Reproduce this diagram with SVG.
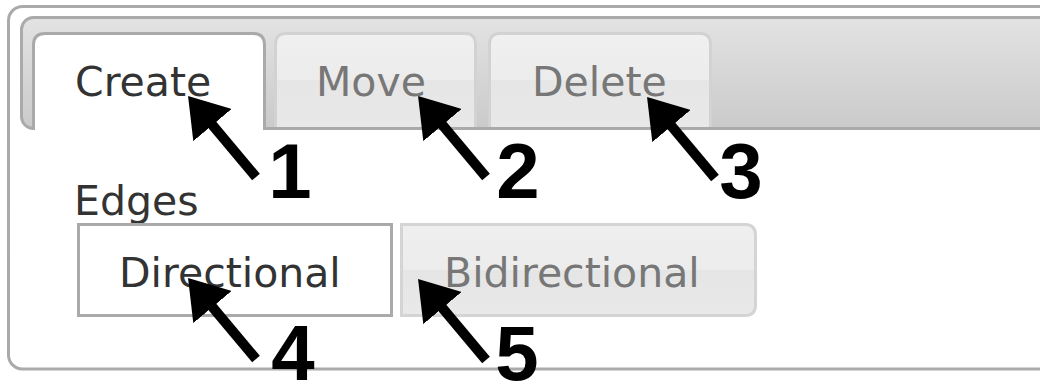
<svg xmlns="http://www.w3.org/2000/svg" width="1040" height="381" viewBox="0 0 1040 381">
<defs>
<linearGradient id="barGrad" x1="0" y1="0" x2="0" y2="1">
<stop offset="0" stop-color="#e3e3e3"/>
<stop offset="1" stop-color="#cacaca"/>
</linearGradient>
<linearGradient id="tabGrad" x1="0" y1="0" x2="0" y2="1">
<stop offset="0" stop-color="#f0f0f0"/>
<stop offset="0.5" stop-color="#ececec"/>
<stop offset="0.5" stop-color="#e6e6e6"/>
<stop offset="1" stop-color="#e8e8e8"/>
</linearGradient>
<linearGradient id="btnGrad" x1="0" y1="0" x2="0" y2="1">
<stop offset="0" stop-color="#efefef"/>
<stop offset="0.5" stop-color="#ececec"/>
<stop offset="0.5" stop-color="#e5e5e5"/>
<stop offset="1" stop-color="#e9e9e9"/>
</linearGradient>
<marker id="head" viewBox="0 0 38 50" refX="18" refY="25" markerWidth="38" markerHeight="50" markerUnits="userSpaceOnUse" orient="auto">
<path d="M0,0 L38,25 L0,50 Z" fill="#000"/>
</marker>
</defs>
<style>
.ui{font-family:"DejaVu Sans",sans-serif;font-size:41px}
.dark{fill:#333}
.grey{fill:#777}
.num{font-family:"Liberation Sans",Arial,sans-serif;font-weight:bold;font-size:78px;fill:#000;text-anchor:middle}
.arrow{stroke:#000;stroke-width:10;fill:none;marker-end:url(#head)}
</style>
<rect width="1040" height="381" fill="#fff"/>
<g id="panel">
<rect x="8.5" y="6.5" width="1060" height="362.5" rx="14" fill="#fff" stroke="#aaa" stroke-width="3"/>
</g>
<g id="tabbar">
<rect x="21.5" y="17.5" width="1040" height="111" rx="12" fill="url(#barGrad)" stroke="#aaa" stroke-width="3"/>
</g>
<g id="tab-move">
<path d="M275.5,127 V44 Q275.5,33.5 286,33.5 H465 Q475.5,33.5 475.5,44 V127" fill="url(#tabGrad)" stroke="#d2d2d2" stroke-width="3"/>
<text class="ui grey" x="316" y="96">Move</text>
</g>
<g id="tab-delete">
<path d="M489.5,127 V44 Q489.5,33.5 500,33.5 H700 Q710.5,33.5 710.5,44 V127" fill="url(#tabGrad)" stroke="#d2d2d2" stroke-width="3"/>
<text class="ui grey" x="532" y="96">Delete</text>
</g>
<g id="tab-create">
<path d="M33.5,131 V45 Q33.5,33.5 45,33.5 H253 Q264.5,33.5 264.5,45 V131 Z" fill="#fff" stroke="none"/>
<path d="M33.5,130 V45 Q33.5,33.5 45,33.5 H253 Q264.5,33.5 264.5,45 V130" fill="none" stroke="#aaa" stroke-width="3"/>
<text class="ui dark" x="75" y="96">Create</text>
</g>
<g id="label-edges">
<text class="ui dark" x="74" y="215">Edges</text>
</g>
<g id="btn-directional">
<rect x="78.5" y="224.5" width="313" height="91" fill="#fff" stroke="#aaa" stroke-width="3"/>
<text class="ui dark" x="119" y="287">Directional</text>
</g>
<g id="btn-bidirectional">
<path d="M401.5,224.5 H745 Q755.5,224.5 755.5,235 V305 Q755.5,315.5 745,315.5 H401.5 Z" fill="url(#btnGrad)" stroke="#d4d4d4" stroke-width="3"/>
<text class="ui grey" x="444" y="287">Bidirectional</text>
</g>
<g id="connectors">
<line class="arrow" x1="256" y1="177" x2="200.9" y2="111.3"/>
<line class="arrow" x1="486" y1="177" x2="430.9" y2="111.3"/>
<line class="arrow" x1="715" y1="178" x2="659.9" y2="112.3"/>
<line class="arrow" x1="256" y1="359" x2="200.9" y2="293.3"/>
<line class="arrow" x1="486" y1="360" x2="430.9" y2="294.3"/>
</g>
<g id="num-1"><text class="num" x="290" y="198">1</text></g>
<g id="num-2"><text class="num" x="518" y="198">2</text></g>
<g id="num-3"><text class="num" x="741" y="198">3</text></g>
<g id="num-4"><text class="num" x="293" y="380">4</text></g>
<g id="num-5"><text class="num" x="517" y="380">5</text></g>
</svg>
